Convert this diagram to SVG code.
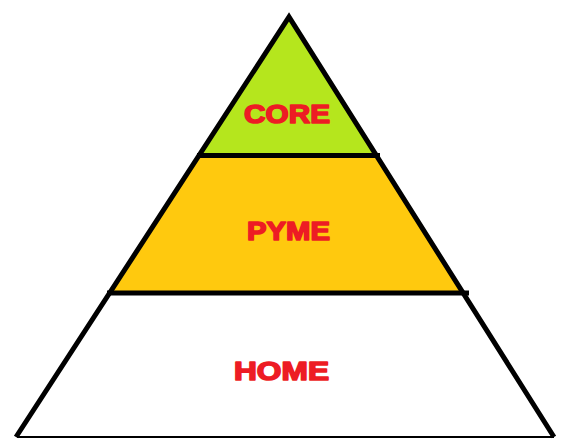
<svg xmlns="http://www.w3.org/2000/svg" width="562" height="439" viewBox="0 0 562 439">
<style>
.lbl{font-family:"Liberation Sans",Arial,sans-serif;font-weight:bold;font-size:26px;fill:#ED1C24;stroke:#ED1C24;stroke-width:1.6;stroke-linejoin:round;text-anchor:middle}
.edge{stroke:#000;stroke-width:5;fill:none}
</style>
<rect width="562" height="439" fill="#fff"/>
<g id="core">
<polygon points="289,17 199,155.5 376.4,155.5" fill="#B5E61D"/>
<text class="lbl" x="287" y="123" textLength="86" lengthAdjust="spacingAndGlyphs">CORE</text>
</g>
<g id="pyme">
<polygon points="199,155.5 109.6,293 463.2,293 376.4,155.5" fill="#FFC90E"/>
<text class="lbl" x="288.5" y="240" textLength="83" lengthAdjust="spacingAndGlyphs">PYME</text>
</g>
<g id="home">
<polygon points="109.6,293 16,437 554,437 463.2,293" fill="#fff"/>
<text class="lbl" x="281.5" y="380" textLength="95" lengthAdjust="spacingAndGlyphs">HOME</text>
</g>
<g id="connectors">
<polyline class="edge" points="16,437 289,17 554,437" stroke-linejoin="miter" stroke-miterlimit="10"/>
<line x1="17" y1="437" x2="554" y2="437" stroke="#000" stroke-width="2"/>
<line class="edge" x1="197" y1="155.5" x2="380" y2="155.5"/>
<line class="edge" x1="107" y1="293" x2="469" y2="293"/>
</g>
</svg>
